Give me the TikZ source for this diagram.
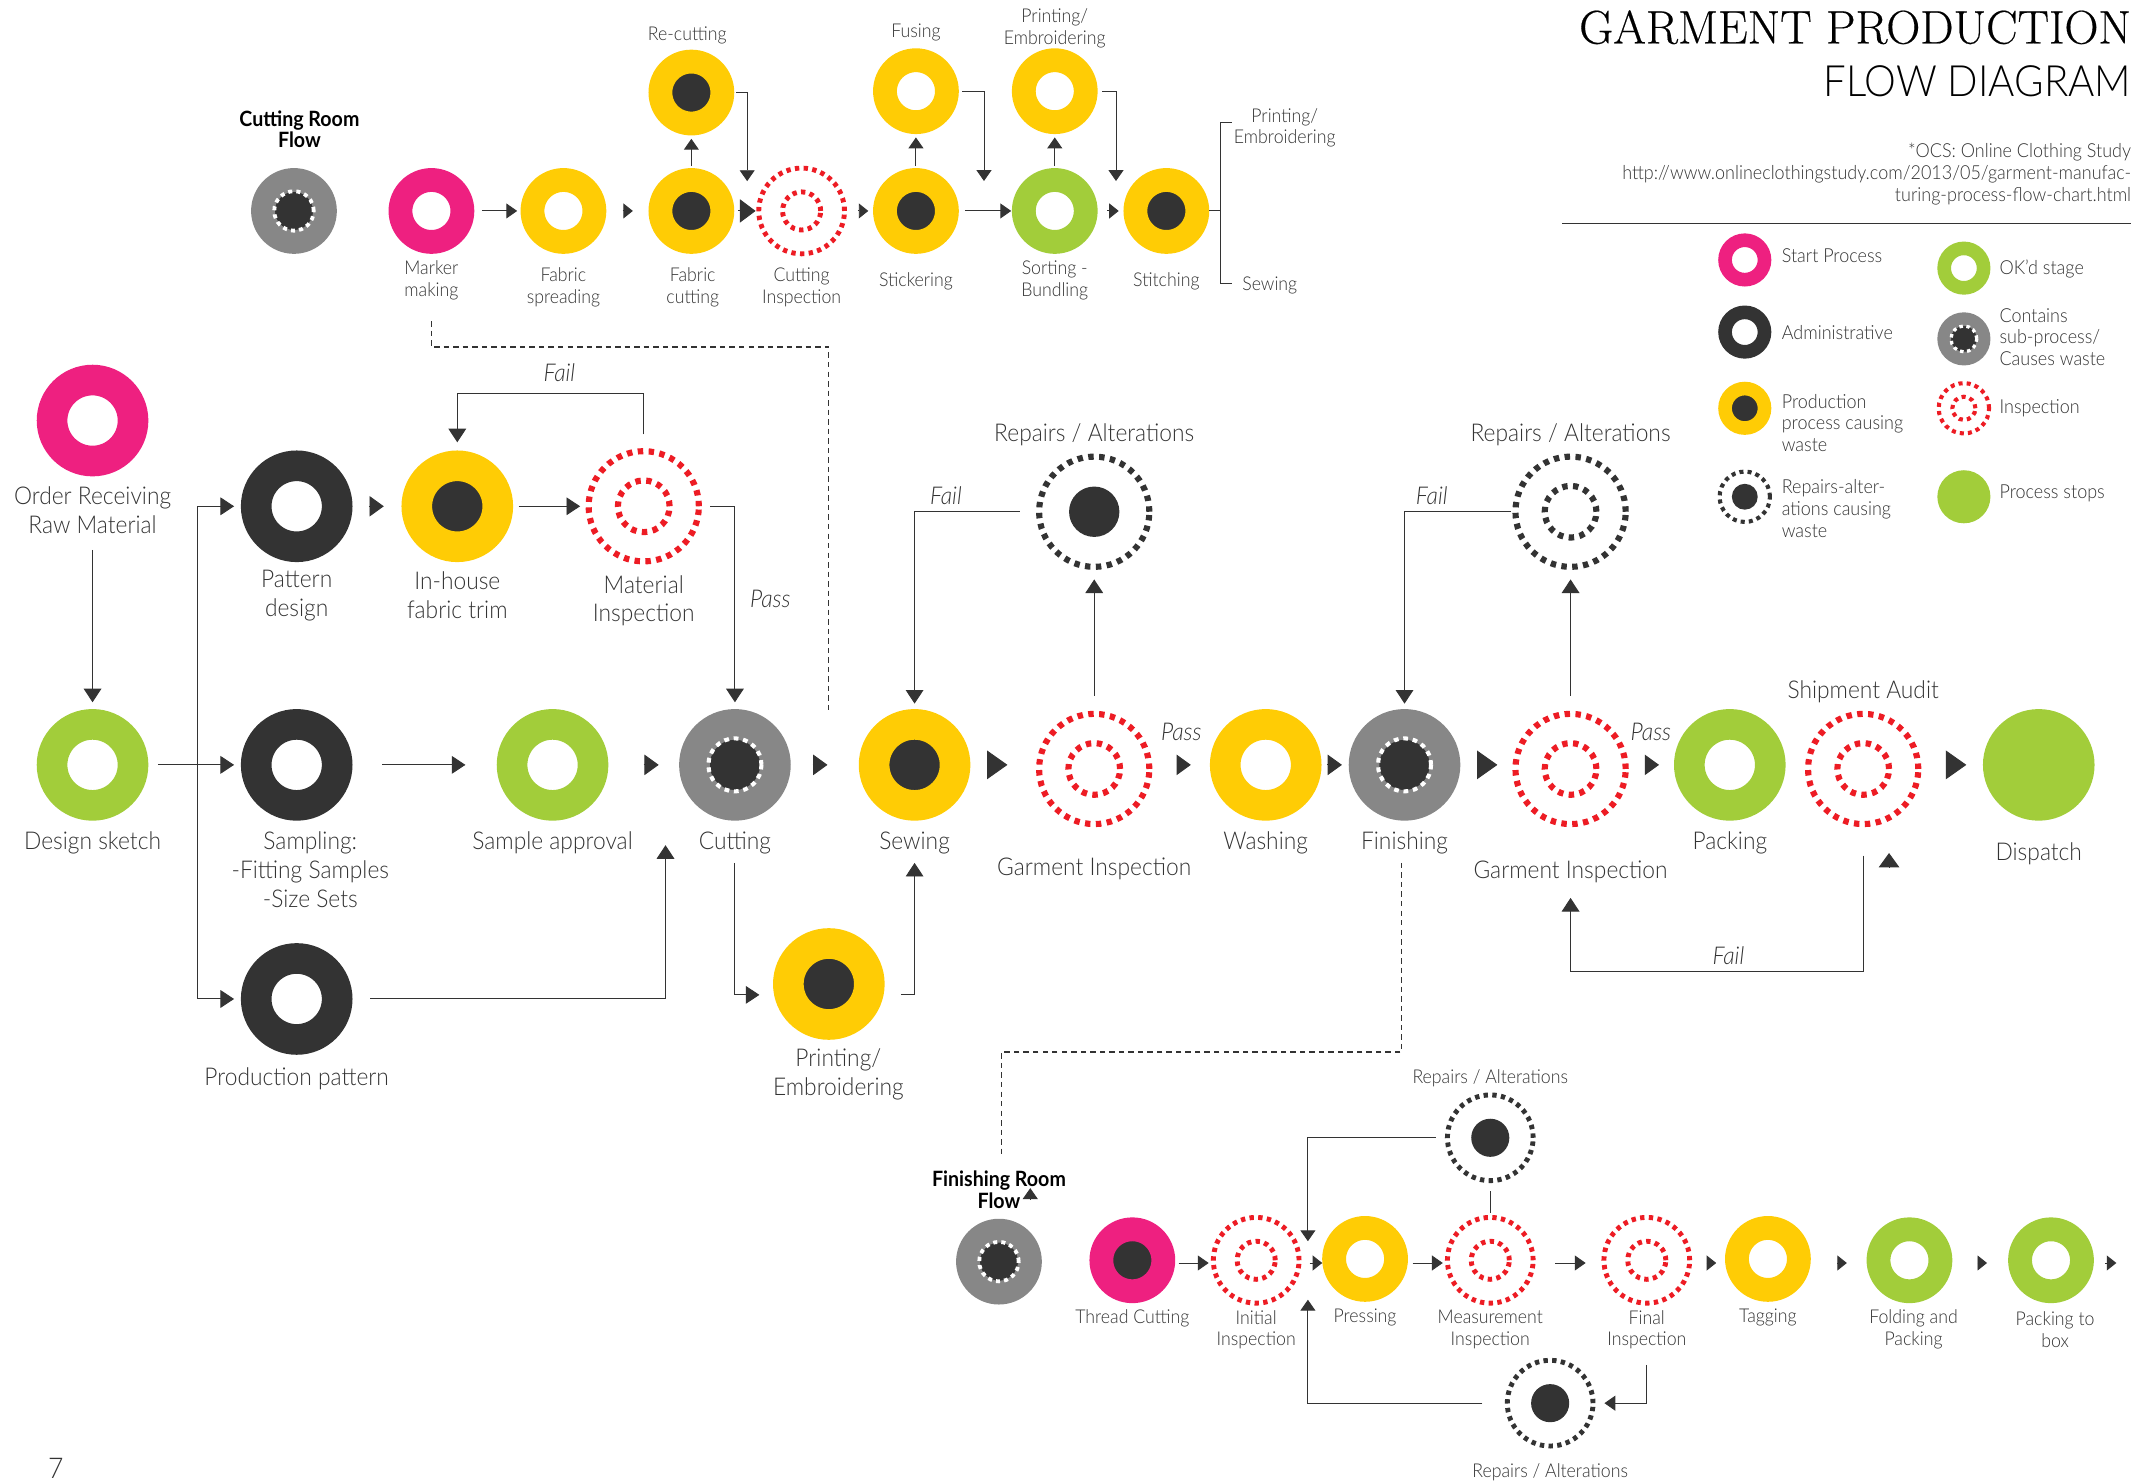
\documentclass[tikz,border=0pt]{standalone}
\usepackage{fontspec}
\setsansfont{Lato}[UprightFont=* Light,ItalicFont=* Light Italic,BoldFont=* Bold,BoldItalicFont=* Bold Italic,FakeStretch=0.93]
\newfontfamily\ttlfont{Latin Modern Roman}[FakeBold=0.4]
\usetikzlibrary{arrows.meta}
\definecolor{pk}{HTML}{EE2080}
\definecolor{yl}{HTML}{FFCC05}
\definecolor{gn}{HTML}{A2CD3A}
\definecolor{dk}{HTML}{333333}
\definecolor{gy}{HTML}{878787}
\definecolor{rd}{HTML}{ED1C24}
\definecolor{tx}{HTML}{333333}
\tikzset{
  ringB/.style 2 args={circle,inner sep=0pt,minimum size=59.5pt,line width=22.5pt,draw=#1,fill=#2},
  ringS/.style 2 args={circle,inner sep=0pt,minimum size=45.5pt,line width=17.5pt,draw=#1,fill=#2},
  ringL/.style 2 args={circle,inner sep=0pt,minimum size=29pt,line width=10pt,draw=#1,fill=#2},
  dotB/.style={circle,inner sep=0pt,minimum size=81pt,line width=4.5pt,draw=#1,dash pattern=on 4pt off 4pt},
  dotBi/.style={circle,inner sep=0pt,minimum size=38pt,line width=4.5pt,draw=#1,dash pattern=on 4pt off 4pt},
  dotS/.style={circle,inner sep=0pt,minimum size=63pt,line width=3.6pt,draw=#1,dash pattern=on 3.2pt off 3.2pt},
  dotSi/.style={circle,inner sep=0pt,minimum size=28pt,line width=3.6pt,draw=#1,dash pattern=on 3.2pt off 3.2pt},
  dotL/.style={circle,inner sep=0pt,minimum size=37pt,line width=3pt,draw=#1,dash pattern=on 3pt off 3pt},
  dotLi/.style={circle,inner sep=0pt,minimum size=17pt,line width=3pt,draw=#1,dash pattern=on 3pt off 3pt},
  coreB/.style={circle,inner sep=0pt,minimum size=37pt,fill=dk},
  coreS/.style={circle,inner sep=0pt,minimum size=28pt,fill=dk},
  coreL/.style={circle,inner sep=0pt,minimum size=19pt,fill=dk},
  wdB/.style={circle,inner sep=0pt,minimum size=39pt,line width=3pt,draw=white,dash pattern=on 3.5pt off 3.5pt},
  wdS/.style={circle,inner sep=0pt,minimum size=29pt,line width=2.8pt,draw=white,dash pattern=on 3pt off 3pt},
  wdL/.style={circle,inner sep=0pt,minimum size=19pt,line width=2.4pt,draw=white,dash pattern=on 2.6pt off 2.6pt},
  lblB/.style={inner sep=0pt,align=center,text=tx,yshift=-1.5pt,font=\sffamily\fontsize{18}{21}\selectfont},
  lblS/.style={inner sep=0pt,align=center,text=tx,yshift=-1pt,font=\sffamily\fontsize{14}{16}\selectfont},
  lblW/.style={inner sep=0pt,anchor=west,align=left,text=tx,yshift=-.7pt,font=\sffamily\fontsize{14.2}{16}\selectfont},
  lblR/.style={inner sep=0pt,anchor=east,align=right,text=tx,yshift=-1pt,font=\sffamily\fontsize{14.2}{16}\selectfont},
  lblH/.style={inner sep=0pt,align=center,text=black,font=\sffamily\bfseries\fontsize{15.5}{16}\selectfont},
  lblI/.style={inner sep=0pt,text=tx,font=\sffamily\itshape\fontsize{18}{21}\selectfont},
  wire/.style={draw=dk,line width=.7pt},
  dashw/.style={draw=dk,line width=.9pt,dash pattern=on 4pt off 3pt},
  tipA/.style={wire,-{Triangle[length=10pt,width=13pt]}},
  tipF/.style={wire,-{Triangle[length=8pt,width=11pt]}},
  tipS/.style={wire,-{Triangle[length=7pt,width=11pt]}},
  tipM/.style={wire,-{Triangle[length=10.5pt,width=15pt]}},
  tipL/.style={wire,-{Triangle[length=15pt,width=21pt]}},
  tipT/.style={wire,-{Triangle[length=11.5pt,width=17pt]}},
}
\newcommand\hconn[6][0]{\draw[#2] ([xshift=#5pt,yshift=-#1pt]#3.east) -- ([xshift=-#6pt,yshift=-#1pt]#3.east -| #4.west);}
\newcommand\hconnB[5]{\draw[#1] ([xshift=#4pt]#2.east |- #3.west) -- ([xshift=-#5pt]#3.west);}
% big icons
\newcommand\RingB[5]{\node[ringB={#4}{#5}] (#1) at (#2,#3) {};}
\newcommand\GrayB[3]{\node[ringB={gy}{dk}] (#1) at (#2,#3) {};\node[wdB] (#1w) at (#1) {};}
\newcommand\InspB[3]{\node[dotB=rd] (#1) at (#2,#3) {};\node[dotBi=rd] (#1i) at (#1) {};}
\newcommand\RingS[5]{\node[ringS={#4}{#5}] (#1) at (#2,#3) {};}
\newcommand\GrayS[3]{\node[ringS={gy}{dk}] (#1) at (#2,#3) {};\node[wdS] (#1w) at (#1) {};}
\newcommand\InspS[3]{\node[dotS=rd] (#1) at (#2,#3) {};\node[dotSi=rd] (#1i) at (#1) {};}
\newcommand\RepS[3]{\node[dotS=dk] (#1) at (#2,#3) {};\node[coreS] (#1c) at (#1) {};}
\newcommand\Lab[5][lblB]{\node[#1] (#2) at (#3,#4) {#5};}
\begin{document}
\begin{tikzpicture}[x=1pt,y=-1pt]
\useasboundingbox (0,0) rectangle (1568,1089.7);
% ---------- title ----------
\node[inner sep=0pt,anchor=east,text=black,font=\ttlfont\fontsize{34.6}{36}\selectfont] (title) at (1566,20) {GARMENT PRODUCTION};
\node[inner sep=0pt,anchor=east,text=black,font=\sffamily\fontsize{31.7}{36}\selectfont] (subtitle) at (1566,60) {FLOW DIAGRAM};
\Lab[lblR]{ocsa}{1566}{111}{*OCS: Online Clothing Study}
\Lab[lblR]{ocsb}{1566}{127}{http://www.onlineclothingstudy.com/2013/05/garment-manufac-}
\Lab[lblR]{ocsc}{1566}{143}{turing-process-flow-chart.html}
\draw[draw=dk,line width=1pt] (1148,164) -- (1566,164);
\node[inner sep=0pt,text=tx,font=\sffamily\fontsize{21}{24}\selectfont] (pageno) at (41,1079) {7};
% ---------- legend ----------
\node[ringL={pk}{white}] (lgstart) at (1282,191) {};
\node[ringL={dk}{white}] (lgadmin) at (1282,244) {};
\node[ringL={yl}{dk}] (lgprod) at (1282,300) {};
\node[dotL=dk] (lgrep) at (1282,365) {}; \node[coreL] (lgrepc) at (lgrep) {};
\node[ringL={gn}{white}] (lgok) at (1443,197) {};
\node[ringL={gy}{dk}] (lgsub) at (1443,249) {}; \node[wdL] (lgsubw) at (lgsub) {};
\node[dotL=rd] (lgins) at (1443,300) {}; \node[dotLi=rd] (lginsi) at (lgins) {};
\node[circle,inner sep=0pt,minimum size=39pt,fill=gn] (lgstop) at (1443,365) {};
\Lab[lblW]{lta}{1309}{187}{Start Process}
\Lab[lblW]{ltb}{1309}{244}{Administrative}
\Lab[lblW]{ltc}{1309}{310}{Production\\process causing\\waste}
\Lab[lblW]{ltd}{1309}{373}{Repairs-alter-\\ations causing\\waste}
\Lab[lblW]{lte}{1469}{197}{OK'd stage}
\Lab[lblW]{ltf}{1469}{247}{Contains\\sub-process/\\Causes waste}
\Lab[lblW]{ltg}{1469}{299}{Inspection}
\Lab[lblW]{lth}{1469}{362}{Process stops}
% ---------- main flow ----------
\RingB{order}{68}{309}{pk}{white}
\RingB{design}{68}{562}{gn}{white}
\RingB{pattern}{218}{372}{dk}{white}
\RingB{trim}{336}{372}{yl}{dk}
\InspB{matins}{473}{372}
\RingB{sampling}{218}{562}{dk}{white}
\RingB{approval}{406}{562}{gn}{white}
\GrayB{cutting}{540}{562}
\RingB{prodpat}{218}{734}{dk}{white}
\RingB{sewing}{672}{562}{yl}{dk}
\RingB{printing}{609}{723}{yl}{dk}
\InspB{gins}{804}{565}
\node[dotB=dk] (repa) at (804,376) {}; \node[coreB] (repac) at (repa) {};
\RingB{washing}{930}{562}{yl}{white}
\GrayB{finishing}{1032}{562}
\InspB{ginsb}{1154}{565}
\node[dotB=dk] (repb) at (1154,376) {}; \node[dotBi=dk] (repbi) at (repb) {};
\RingB{packing}{1271}{562}{gn}{white}
\InspB{audit}{1369}{565}
\node[circle,inner sep=0pt,minimum size=82pt,fill=gn] (dispatch) at (1498,562) {};
\Lab{lorder}{68}{373.5}{Order Receiving\\Raw Material}
\Lab{ldesign}{68}{618}{Design sketch}
\Lab{lpattern}{218}{436}{Pattern\\design}
\Lab{ltrim}{336}{436}{In-house\\fabric trim}
\Lab{lmatins}{473}{440}{Material\\Inspection}
\Lab{lsampling}{228}{637.5}{Sampling:\\-Fitting Samples\\-Size Sets}
\Lab{lapproval}{406}{618}{Sample approval}
\Lab{lcutting}{540}{618}{Cutting}
\Lab{lprodpat}{218}{791}{Production pattern}
\Lab{lsewing}{672}{618}{Sewing}
\Lab{lprinting}{616}{788}{Printing/\\Embroidering}
\Lab{lgins}{804}{637}{Garment Inspection}
\Lab{lrepa}{804}{318}{Repairs / Alterations}
\Lab{lwashing}{930}{618}{Washing}
\Lab{lfinishing}{1032}{618}{Finishing}
\Lab{lginsb}{1154}{639}{Garment Inspection}
\Lab{lrepb}{1154}{318}{Repairs / Alterations}
\Lab{lpacking}{1271}{618}{Packing}
\Lab{laudit}{1369}{507}{Shipment Audit}
\Lab{ldispatch}{1498}{626}{Dispatch}
\Lab[lblI]{pfa}{411}{274}{Fail}
\Lab[lblI]{pfb}{566}{440}{Pass}
\Lab[lblI]{pfc}{695}{364}{Fail}
\Lab[lblI]{pfd}{868}{538}{Pass}
\Lab[lblI]{pfe}{1052}{364}{Fail}
\Lab[lblI]{pff}{1213}{538}{Pass}
\Lab[lblI]{pfg}{1270}{702}{Fail}
% main connectors
\coordinate (branch) at (145,562);
\draw[tipA] ([yshift=-54pt]order.south) -- ([yshift=5pt]design.north);
\hconn{tipA}{design}{sampling}{7}{5}
\draw[tipA] (branch) |- ([xshift=-5pt]pattern.west);
\draw[tipA] (branch) |- ([xshift=-5pt]prodpat.west);
\hconn{tipM}{pattern}{trim}{12}{13}
\hconn{tipA}{trim}{matins}{4}{4}
\draw[tipA] ([xshift=6pt]matins.east) -| ([yshift=5pt]cutting.north);
\draw[tipA] ([yshift=10pt]matins.north) |- ([yshift=42pt]trim.north) -- ([yshift=6pt]trim.north);
\hconn{tipA}{sampling}{approval}{22}{23}
\hconn{tipM}{approval}{cutting}{26}{15}
\hconn{tipM}{cutting}{sewing}{16}{23}
\draw[tipA] ([xshift=13pt]prodpat.east) -| ([xshift=-51pt,yshift=-18pt]cutting.south);
\draw[tipA] ([yshift=-31pt]cutting.south) |- ([xshift=-10pt,yshift=-8pt]printing.west);
\draw[tipA] ([xshift=12pt,yshift=-8pt]printing.east) -| ([yshift=-31pt]sewing.south);
\hconn{tipL}{sewing}{gins}{13}{21}
\draw[tipA] ([yshift=11pt]gins.north) -- ([yshift=-7pt]repa.south);
\draw[tipA] ([xshift=-12pt]repa.west) -| ([yshift=4pt]sewing.north);
\hconnB{tipM}{gins}{washing}{18}{14}
\hconn{tipM}{washing}{finishing}{4}{5}
\hconn{tipL}{finishing}{ginsb}{13}{11}
\draw[tipA] ([yshift=11pt]ginsb.north) -- ([yshift=-7pt]repb.south);
\draw[tipA] ([xshift=-1pt]repb.west) -| ([yshift=4pt]finishing.north);
\hconnB{tipM}{ginsb}{packing}{12}{11}
\hconnB{tipL}{audit}{dispatch}{19}{12}
\draw[tipA] ([yshift=-21pt]audit.south) |- ([yshift=-106pt]ginsb.south) -- ([yshift=-52pt]ginsb.south);
\draw[tipM] ([xshift=19pt,yshift=-30pt]audit.south) -- ([xshift=19pt,yshift=-19pt]audit.south);
% ---------- cutting room ----------
\GrayS{cutroom}{216}{155}
\RingS{marker}{317}{155}{pk}{white}
\RingS{spread}{414}{155}{yl}{white}
\RingS{fabcut}{508}{155}{yl}{dk}
\RingS{recut}{508}{68}{yl}{dk}
\InspS{cutins}{589}{155}
\RingS{sticker}{673}{155}{yl}{dk}
\RingS{fusing}{673}{67}{yl}{white}
\RingS{sorting}{775}{155}{gn}{white}
\RingS{printemb}{775}{67}{yl}{white}
\RingS{stitch}{857}{155}{yl}{dk}
\Lab[lblH]{lcutroom}{220}{95}{Cutting Room\\Flow}
\Lab[lblS]{lmarker}{317}{205}{Marker\\making}
\Lab[lblS]{lspread}{414}{210}{Fabric\\spreading}
\Lab[lblS]{lfabcut}{509}{210}{Fabric\\cutting}
\Lab[lblS]{lrecut}{505}{25}{Re-cutting}
\Lab[lblS]{lcutins}{589}{210}{Cutting\\Inspection}
\Lab[lblS]{lsticker}{673}{206}{Stickering}
\Lab[lblS]{lfusing}{673}{23}{Fusing}
\Lab[lblS]{lsorting}{775}{205}{Sorting -\\Bundling}
\Lab[lblS]{lprintemb}{775}{20}{Printing/\\Embroidering}
\Lab[lblS]{lstitch}{857}{206}{Stitching}
\Lab[lblS]{lbrka}{944}{93}{Printing/\\Embroidering}
\Lab[lblS]{lbrkb}{933}{209}{Sewing}
\coordinate (brk) at (897,155);
\coordinate (brkT) at (905,90);
\coordinate (brkB) at (905,208);
\hconn{tipF}{marker}{spread}{5.5}{2.5}
\hconn{tipS}{spread}{fabcut}{12}{11.5}
\hconn{tipT}{fabcut}{cutins}{3}{0.5}
\hconn{tipS}{cutins}{sticker}{8}{3.5}
\hconn{tipF}{sticker}{sorting}{4.5}{0.5}
\hconn{tipS}{sorting}{stitch}{7}{3.5}
\draw[tipF] ([yshift=1.5pt]fabcut.north) -- ([yshift=-2.5pt]recut.south);
\draw[tipF] ([xshift=1.5pt]recut.east) -| ([xshift=-40pt,yshift=-11.4pt]cutins.north);
\draw[tipF] ([yshift=1.5pt]sticker.north) -- ([yshift=-2.5pt]fusing.south);
\draw[tipF] ([xshift=2.5pt]fusing.east) -| ([xshift=-20.5pt,yshift=22pt]sorting.west);
\draw[tipF] ([yshift=1.5pt]sorting.north) -- ([yshift=-2.5pt]printemb.south);
\draw[tipF] ([xshift=3.5pt]printemb.east) -| ([xshift=-5.5pt,yshift=22pt]stitch.west);
\draw[wire] (stitch.east) -- (brk);
\draw[wire] (brkT) -- (brk |- brkT) -- (brk |- brkB) -- (brkB);
\coordinate (dashC) at (609,255);
\coordinate (dashE) at (609,524);
\draw[dashw] ([yshift=-49.5pt]marker.south) |- (dashC) -- (dashE);
% ---------- finishing room ----------
\GrayS{finroom}{734}{927}
\RingS{thread}{832}{926}{pk}{dk}
\InspS{initial}{923}{926}
\RingS{pressing}{1003}{925}{yl}{white}
\InspS{measure}{1095}{926}
\InspS{final}{1210}{926}
\RingS{tagging}{1299}{925}{yl}{white}
\RingS{folding}{1403}{926}{gn}{white}
\RingS{packbox}{1507}{926}{gn}{white}
\RepS{repc}{1095}{836}
\RepS{repd}{1139}{1031}
\Lab[lblH]{lfinroom}{734}{874}{Finishing Room\\Flow}
\Lab[lblS]{lthread}{832}{968}{Thread Cutting}
\Lab[lblS]{linitial}{923}{976}{Initial\\Inspection}
\Lab[lblS]{lpressing}{1003}{967}{Pressing}
\Lab[lblS]{lmeasure}{1095}{976}{Measurement\\Inspection}
\Lab[lblS]{lfinal}{1210}{976}{Final\\Inspection}
\Lab[lblS]{ltagging}{1299}{967}{Tagging}
\Lab[lblS]{lfolding}{1406}{976}{Folding and\\Packing}
\Lab[lblS]{lpackbox}{1510}{976}{Packing to\\box}
\Lab[lblS]{lrepc}{1095}{791}{Repairs / Alterations}
\Lab[lblS]{lrepd}{1139}{1081}{Repairs / Alterations}
\coordinate (endtip) at (1555,928);
\hconn[2]{tipF}{thread}{initial}{2.5}{1.6}
\hconn[2]{tipS}{initial}{pressing}{6}{0}
\hconn[3]{tipF}{pressing}{measure}{3.5}{1.6}
\hconn[2]{tipF}{measure}{final}{14.6}{11.6}
\hconn[2]{tipS}{final}{tagging}{10.6}{6.5}
\hconn[3]{tipS}{tagging}{folding}{19.5}{14.5}
\hconn[2]{tipS}{folding}{packbox}{18.5}{15.5}
\draw[tipS] ([xshift=8.5pt,yshift=-2pt]packbox.east) -- (endtip);
\draw[tipF] ([xshift=-6.6pt]repc.west) -| ([xshift=-10.5pt,yshift=13pt]pressing.west);
\draw[wire] ([yshift=1.6pt]measure.north) -- ([yshift=-5.6pt]repc.south);
\draw[tipF] ([yshift=-43.6pt]final.south) |- ([xshift=6.6pt]repd.east);
\draw[tipF] ([xshift=-16.6pt]repd.west) -| ([xshift=-10.5pt,yshift=-30pt]pressing.west);
\coordinate (finE) at (736,848);
\coordinate (finC) at (1030,773);
\draw[dashw] ([xshift=-2pt,yshift=-31pt]finishing.south) -- (finC) -| (finE);
\draw[tipF] ([xshift=23pt,yshift=14.5pt]finroom.north) -- ([xshift=23pt,yshift=22.5pt]finroom.north);
\end{tikzpicture}
\end{document}
